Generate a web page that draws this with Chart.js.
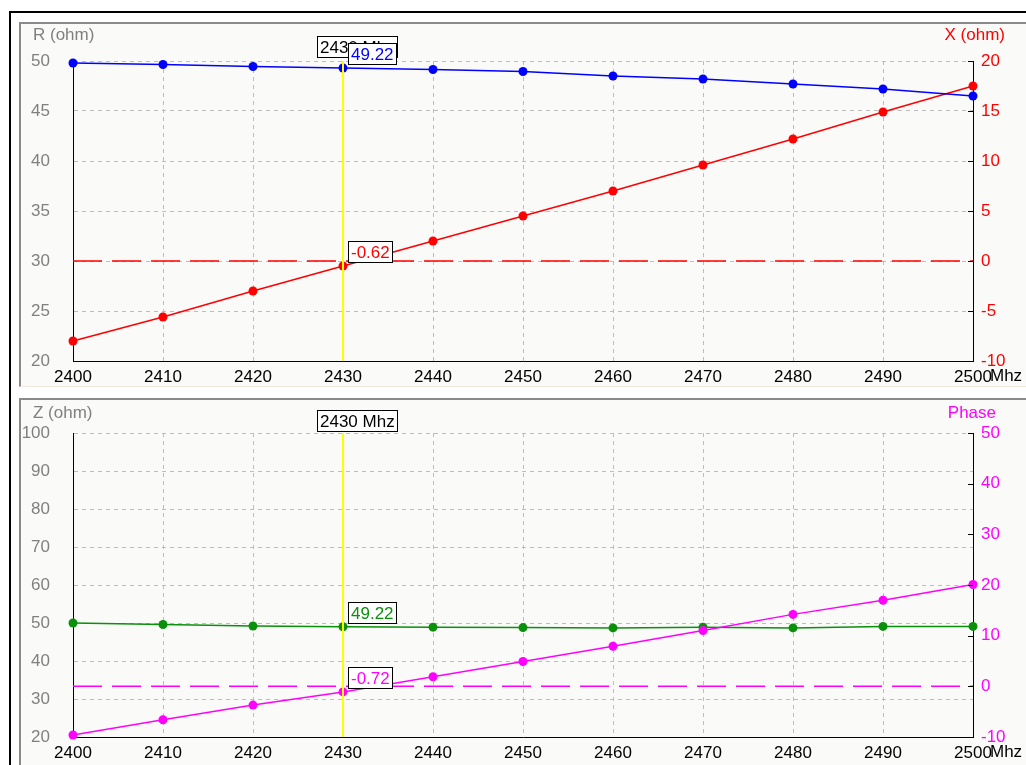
<!DOCTYPE html>
<html>
<head>
<meta charset="utf-8">
<script src="https://cdn.jsdelivr.net/npm/chart.js@4.4.0/dist/chart.umd.min.js"></script>
<style>
  body{margin:0;background:#fff;}
  #tela{position:relative;width:1026px;height:765px;overflow:hidden;background:#fff;}
  #moldura{position:absolute;left:9px;top:11px;width:1030px;height:770px;border-left:2px solid #000;border-top:2px solid #000;}
  .painel{position:absolute;left:19px;width:1010px;background:#fafbf9;border-left:2px solid #8a8a8a;border-top:2px solid #8a8a8a;border-bottom:1px solid #efe6dc;}
  #painel1{top:22px;height:362px;}
  #painel2{top:398px;height:366px;}
  canvas{position:absolute;}
  #grafico1{left:21px;top:24px;}
  #grafico2{left:21px;top:400px;}
</style>
</head>
<body>
<div id="tela">
  <div id="moldura"></div>
  <div class="painel" id="painel1"></div>
  <div class="painel" id="painel2"></div>
  <canvas id="grafico1" width="1005" height="360"></canvas>
  <canvas id="grafico2" width="1005" height="360"></canvas>
</div>
<script>
// DADOS
const frequencias = [2400, 2410, 2420, 2430, 2440, 2450, 2460, 2470, 2480, 2490, 2500]
const resistencia = [49.8, 49.65, 49.45, 49.3, 49.15, 48.95, 48.5, 48.2, 47.7, 47.2, 46.5]
const reatancia   = [-8.0, -5.6, -3.0, -0.5, 2.0, 4.5, 7.0, 9.6, 12.2, 14.9, 17.5]
const impedancia  = [50.0, 49.6, 49.2, 49.0, 48.9, 48.8, 48.7, 48.9, 48.7, 49.1, 49.1]
const fase        = [-9.6, -6.6, -3.7, -1.1, 1.9, 4.9, 7.9, 11.0, 14.2, 17.0, 20.1]

const ticksR = [20, 50, 5]      // min, max, passo
const ticksX = [-10, 20, 5]
const ticksZ = [20, 100, 10]
const ticksFase = [-10, 50, 10]

const freqCursor = 2430
const textoCursor = '2430 Mhz'
const rotulosGrafico1 = ['49.22', '-0.62']
const rotulosGrafico2 = ['49.22', '-0.72']

const AZUL = '#0000ff', VERMELHO = '#ff0000', VERDE = '#0a900a', MAGENTA = '#ff00ff'
const FONTE = '"Liberation Sans", Arial, sans-serif'

Chart.defaults.font.family = FONTE
Chart.defaults.font.size = 17

function pontos(valores){
  return frequencias.map((f, i) => ({x: f, y: valores[i]}))
}

function caixa(ctx, texto, x, y, cor){
  const w = Math.ceil(ctx.measureText(texto).width) + 6
  ctx.fillStyle = '#fff'
  ctx.fillRect(x, y, w, 22)
  ctx.strokeStyle = '#000'
  ctx.lineWidth = 1
  ctx.strokeRect(x + 0.5, y + 0.5, w - 1, 21)
  ctx.fillStyle = cor
  ctx.fillText(texto, x + 3, y + 12)
}

// cursor amarelo, caixas e titulos
const pluginCursor = {
  id: 'cursor',
  afterDatasetsDraw(chart, args, opts){
    const ctx = chart.ctx, area = chart.chartArea
    const xc = Math.round(chart.scales.x.getPixelForValue(freqCursor))
    const i = frequencias.indexOf(freqCursor)
    ctx.save()
    ctx.strokeStyle = '#ffff00'
    ctx.lineWidth = 2
    ctx.beginPath(); ctx.moveTo(xc, area.top); ctx.lineTo(xc, area.bottom); ctx.stroke()

    // marcas internas do eixo direito
    const yd = chart.scales.y2
    ctx.strokeStyle = '#000'
    ctx.lineWidth = 1
    yd.ticks.forEach(t => {
      const y = Math.round(yd.getPixelForValue(t.value)) + 0.5
      ctx.beginPath(); ctx.moveTo(area.right - 5, y); ctx.lineTo(area.right, y); ctx.stroke()
    })

    ctx.font = '17px ' + FONTE
    ctx.textBaseline = 'middle'
    ctx.textAlign = 'left'
    caixa(ctx, textoCursor, xc - 26, area.top + opts.topoFreq, '#000')
    opts.caixas.forEach(c => {
      const yp = chart.scales[c.eixo].getPixelForValue(c.serie[i])
      caixa(ctx, c.texto, xc + 5, Math.round(yp) - 25, c.cor)
    })

    // titulos dos eixos
    ctx.textBaseline = 'top'
    ctx.fillStyle = '#808080'
    ctx.fillText(opts.tituloEsq, 12, opts.topoTitulo)
    ctx.textAlign = 'right'
    ctx.fillStyle = opts.corDir
    ctx.fillText(opts.tituloDir, opts.xTituloDir, opts.topoTitulo)
    ctx.textAlign = 'left'
    ctx.fillStyle = '#000'
    ctx.fillText('Mhz', area.right + 17, area.bottom + 7)
    ctx.restore()
  }
}

function escalas(esq, dir, corDir){
  return {
    x: {
      type: 'linear', min: 2400, max: 2500,
      ticks: {stepSize: 10, color: '#000', padding: 6, maxRotation: 0, autoSkip: false,
        callback: (v) => String(v)},
      grid: {color: '#bdbdbd', drawTicks: false},
      border: {color: '#000', width: 1, dash: [4, 4]},
      afterFit(s){ s.height = 23 }
    },
    y: {
      position: 'left', min: esq[0], max: esq[1],
      ticks: {stepSize: esq[2], color: '#808080', padding: 23},
      grid: {color: '#bdbdbd', drawTicks: false},
      border: {color: '#000', width: 1, dash: [4, 4]},
      afterFit(s){ s.width = 52; s.paddingTop = 0; s.paddingBottom = 0 }
    },
    y2: {
      position: 'right', min: dir[0], max: dir[1],
      ticks: {stepSize: dir[2], color: corDir, padding: 8},
      grid: {display: false, drawTicks: false},
      border: {color: '#000', width: 1},
      afterFit(s){ s.width = 53; s.paddingTop = 0; s.paddingBottom = 0 }
    }
  }
}

function serie(dados, cor, eixo){
  return {data: pontos(dados), yAxisID: eixo, borderColor: cor, backgroundColor: cor,
    borderWidth: 1.5, pointRadius: 4.5, pointBorderWidth: 0, pointBackgroundColor: cor, clip: false, tension: 0}
}

function linhaZero(cor){
  return {data: [{x: 2400, y: 0}, {x: 2500, y: 0}], yAxisID: 'y2', borderColor: cor,
    borderWidth: 1.5, borderDash: [29, 10], pointRadius: 0}
}

// GRAFICO R / X
var grafico1 = new Chart(document.getElementById('grafico1'), {
  type: 'line',
  data: {
    datasets: [
      serie(resistencia, AZUL, 'y'),
      serie(reatancia, VERMELHO, 'y2'),
      linhaZero(VERMELHO)
    ]
  },
  options: {
    responsive: false, animation: false, devicePixelRatio: 1,
    layout: {padding: {top: 37, left: 0, right: 0, bottom: 0}},
    scales: escalas(ticksR, ticksX, VERMELHO),
    plugins: {
      legend: {display: false}, tooltip: {enabled: false},
      cursor: {
        topoFreq: -25, topoTitulo: 3, tituloEsq: 'R (ohm)', tituloDir: 'X (ohm)', corDir: VERMELHO, xTituloDir: 984,
        caixas: [
          {texto: rotulosGrafico1[1], serie: reatancia, eixo: 'y2', cor: VERMELHO},
          {texto: rotulosGrafico1[0], serie: resistencia, eixo: 'y', cor: AZUL}
        ]
      }
    }
  },
  plugins: [pluginCursor]
})

// GRAFICO Z / FASE
var grafico2 = new Chart(document.getElementById('grafico2'), {
  type: 'line',
  data: {
    datasets: [
      serie(fase, MAGENTA, 'y2'),
      serie(impedancia, VERDE, 'y'),
      linhaZero(MAGENTA)
    ]
  },
  options: {
    responsive: false, animation: false, devicePixelRatio: 1,
    layout: {padding: {top: 33, left: 0, right: 0, bottom: 0}},
    scales: escalas(ticksZ, ticksFase, MAGENTA),
    plugins: {
      legend: {display: false}, tooltip: {enabled: false},
      cursor: {
        topoFreq: -23, topoTitulo: 5, tituloEsq: 'Z (ohm)', tituloDir: 'Phase', corDir: MAGENTA, xTituloDir: 975,
        caixas: [
          {texto: rotulosGrafico2[0], serie: impedancia, eixo: 'y', cor: VERDE},
          {texto: rotulosGrafico2[1], serie: fase, eixo: 'y2', cor: MAGENTA}
        ]
      }
    }
  },
  plugins: [pluginCursor]
})
</script>
</body>
</html>
